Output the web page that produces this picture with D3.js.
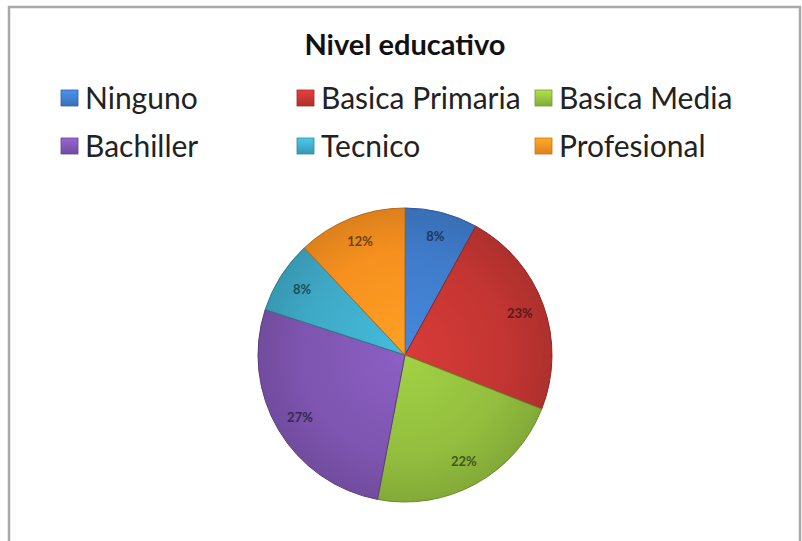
<!DOCTYPE html>
<html>
<head>
<meta charset="utf-8">
<script src="https://cdn.jsdelivr.net/npm/d3@7"></script>
<style>
  html, body { margin: 0; padding: 0; background: #fff; }
  svg { display: block; }
  text { font-family: Lato, "Open Sans", sans-serif; }
</style>
</head>
<body>
<svg id="chart" width="802" height="541"></svg>
<script>
// Education level distribution
const categories = ["Ninguno", "Basica Primaria", "Basica Media", "Bachiller", "Tecnico", "Profesional"];
const values = [8, 23, 22, 27, 8, 12];
const colors = ["#3F7BC9", "#C23532", "#92BD3E", "#7E55B0", "#3EA9C6", "#F6901F"];
const title = "Nivel educativo";

const W = 802, H = 541;
const svg = d3.select("#chart");
const defs = svg.append("defs");

// chart frame (open at the bottom edge)
svg.append("path")
  .attr("d", `M9,${H} V7 H800 V${H}`)
  .attr("fill", "none")
  .attr("stroke", "#a9a9a9")
  .attr("stroke-width", 2.5);

svg.append("text")
  .attr("x", 405).attr("y", 55)
  .attr("text-anchor", "middle")
  .attr("font-size", 29)
  .attr("font-weight", "bold")
  .attr("fill", "#111")
  .text(title);

const data = categories.map((c, i) => ({ name: c, value: values[i], color: colors[i] }));

// pie geometry
const cx = 405, cy = 355, R = 147;

// gradients for a soft bevelled look
data.forEach((d, i) => {
  const g = defs.append("radialGradient")
    .attr("id", "grad" + i)
    .attr("gradientUnits", "userSpaceOnUse")
    .attr("cx", 0).attr("cy", 0).attr("r", R);
  const c = d3.color(d.color);
  g.append("stop").attr("offset", "0%").attr("stop-color", c.brighter(0.3));
  g.append("stop").attr("offset", "70%").attr("stop-color", c);
  g.append("stop").attr("offset", "100%").attr("stop-color", c.darker(0.3));

  const lg = defs.append("linearGradient").attr("id", "lg" + i)
    .attr("x1", 0).attr("y1", 0).attr("x2", 0).attr("y2", 1);
  lg.append("stop").attr("offset", "0%").attr("stop-color", c.brighter(0.5));
  lg.append("stop").attr("offset", "100%").attr("stop-color", c.darker(0.3));
});

// legend: three columns, two rows
const colX = d3.scaleOrdinal().domain([0, 1, 2]).range([61, 297, 535]);
const rowY = d3.scaleOrdinal().domain([0, 1]).range([98, 146]);
const legend = svg.append("g");
data.forEach((d, i) => {
  const col = i % 3, row = Math.floor(i / 3);
  const g = legend.append("g").attr("transform", `translate(${colX(col)},${rowY(row)})`);
  g.append("rect")
    .attr("x", 0).attr("y", -8).attr("width", 17).attr("height", 16)
    .attr("fill", `url(#lg${i})`)
    .attr("stroke", d3.color(d.color).darker(0.6)).attr("stroke-width", 0.8);
  g.append("text")
    .attr("x", 24).attr("y", 0)
    .attr("dy", "0.35em")
    .attr("font-size", 30)
    .attr("fill", "#222")
    .text(d.name);
});

const pie = d3.pie().value(d => d.value).sort(null);
const arc = d3.arc().innerRadius(0).outerRadius(R);
const labelArc = d3.arc().innerRadius(R * 0.83).outerRadius(R * 0.83);
const arcs = pie(data);

const pg = svg.append("g").attr("transform", `translate(${cx},${cy})`);
pg.selectAll("path.slice")
  .data(arcs)
  .join("path")
  .attr("class", "slice")
  .attr("d", arc)
  .attr("fill", (d, i) => `url(#grad${i})`)
  .attr("stroke", d => d3.color(d.data.color).darker(0.9))
  .attr("stroke-width", 1);

pg.selectAll("text.lbl")
  .data(arcs)
  .join("text")
  .attr("class", "lbl")
  .attr("transform", d => `translate(${labelArc.centroid(d)})`)
  .attr("text-anchor", "middle")
  .attr("dy", "0.35em")
  .attr("font-size", 13)
  .attr("font-weight", "bold")
  .attr("fill", d => d3.color(d.data.color).darker(2.2))
  .text(d => d.data.value + "%");
</script>
</body>
</html>
